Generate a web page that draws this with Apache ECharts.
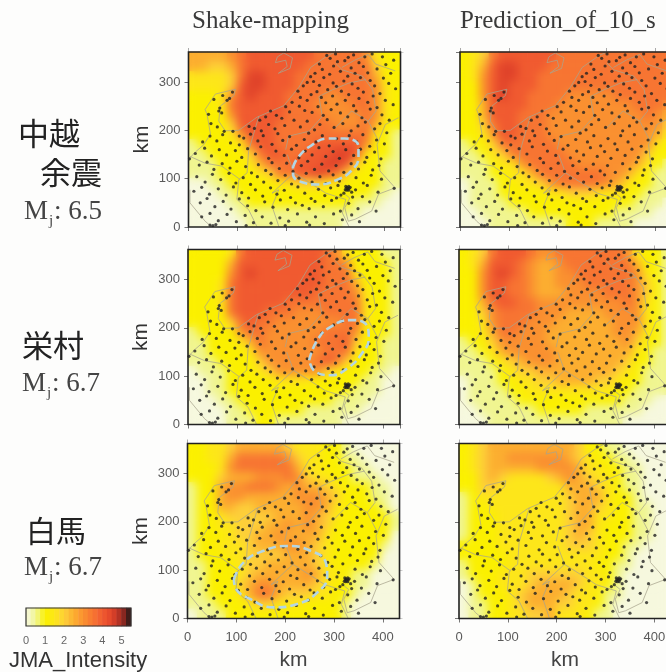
<!DOCTYPE html>
<html><head><meta charset="utf-8">
<style>html,body{margin:0;padding:0;background:#fdfdfc;overflow:hidden}#c{width:666px;height:672px}</style>
<script src="https://cdn.jsdelivr.net/npm/echarts@6/dist/echarts.min.js"></script>
</head><body><div id="c"></div>
<script>
// Cell centres, km. Heat values are half-steps of JMA intensity, read per 20 km cell, top row first.
const xCells=[10,30,50,70,90,110,130,150,170,190,210,230,250,270,290,310,330,350,370,390,410,430];
const yCells=[10,30,50,70,90,110,130,150,170,190,210,230,250,270,290,310,330,350];
const halfStep=0.5;
const legendValues=[0.1,0.35,0.6,0.85,1.1,1.35,1.6,1.85,2.1,2.35,2.6,2.85,3.1,3.35,3.6,3.85,4.1,4.35,4.6,4.85,5.1,5.4];

const shakeChuetsu=[
[5,5,5,5,6,7,8,8,8,8,8,8,8,7,7,7,7,7,6,3,2,2],
[5,5,4,4,5,7,8,8,8,8,8,8,7,7,7,7,7,7,7,4,2,2],
[3,3,3,3,4,7,9,9,8,8,8,7,7,7,7,7,7,7,7,5,2,2],
[3,3,3,3,4,8,9,9,8,8,8,7,7,7,7,7,7,7,7,6,3,2],
[2,2,2,3,6,8,9,8,8,8,7,7,7,7,6,6,7,7,7,6,3,2],
[2,2,2,3,7,8,8,8,8,8,7,7,7,6,6,6,6,7,7,6,3,2],
[2,2,2,2,6,8,8,8,8,8,7,7,7,7,6,6,6,6,7,6,3,2],
[2,2,2,2,4,8,8,8,8,7,7,7,7,7,7,6,6,6,7,5,2,2],
[2,2,2,2,3,6,8,8,8,7,7,7,7,7,7,7,7,7,7,3,2,1],
[1,2,2,2,2,3,7,8,8,7,7,7,7,8,8,8,8,8,6,2,2,1],
[1,1,2,2,2,2,4,7,8,8,7,7,8,8,8,9,9,8,3,2,2,1],
[1,1,1,2,2,2,3,5,7,7,7,8,8,8,9,9,8,4,2,2,1,1],
[1,1,1,2,2,2,2,3,4,7,7,8,8,9,8,7,4,2,2,2,1,1],
[0,0,1,1,2,2,2,2,2,3,3,4,4,4,3,3,2,2,2,2,1,1],
[0,0,0,1,1,2,2,2,2,2,2,2,2,2,2,2,2,2,2,1,1,0],
[0,0,0,0,1,1,2,2,2,2,2,2,2,2,2,2,2,1,1,1,0,0],
[0,0,0,0,0,1,1,1,1,1,1,1,1,1,1,1,1,1,0,0,0,0],
[0,0,0,0,0,0,1,1,1,1,1,1,1,1,1,1,0,0,0,0,0,0]];
const predChuetsu=[
[2,3,4,7,8,8,8,8,8,8,7,7,7,7,7,7,7,7,7,7,7,7],
[2,3,5,8,9,9,8,8,8,7,7,7,7,7,7,7,7,7,7,7,7,7],
[2,3,6,8,9,9,8,8,7,7,7,7,7,7,7,7,7,7,7,7,7,7],
[2,2,6,8,9,8,8,8,7,7,7,7,7,7,7,7,7,7,7,7,7,7],
[2,2,6,8,9,8,8,7,7,7,7,6,6,6,6,6,7,7,7,7,7,7],
[2,2,5,8,8,8,8,7,7,7,6,6,6,6,6,6,6,6,7,7,7,6],
[2,2,5,8,8,8,7,7,7,6,6,6,6,6,6,6,6,6,6,7,6,5],
[2,2,4,7,8,8,7,7,7,6,6,6,6,6,6,6,6,6,6,6,6,4],
[2,2,3,6,8,8,7,7,7,6,6,6,6,6,6,6,6,6,6,6,5,3],
[1,2,2,4,7,7,7,7,7,7,6,6,6,6,6,6,6,6,6,6,3,2],
[1,1,2,3,4,7,7,7,7,7,7,6,6,6,6,6,6,6,6,4,2,2],
[1,1,1,2,3,3,6,7,7,7,7,7,6,6,6,6,6,6,5,3,2,1],
[1,1,1,2,2,3,3,5,7,7,7,7,7,7,7,6,6,5,3,2,1,1],
[0,1,1,1,2,2,3,3,4,6,7,7,7,7,7,6,5,3,2,2,1,1],
[0,1,1,1,2,2,2,2,2,3,3,4,4,4,3,3,3,2,2,1,1,1],
[0,1,1,1,1,2,2,2,2,2,2,2,2,2,2,2,2,2,1,1,1,0],
[0,0,1,1,1,1,1,2,2,2,2,2,2,2,2,2,1,1,1,1,0,0],
[0,0,0,1,1,1,1,1,1,1,1,2,2,2,1,1,1,1,0,0,0,0]];
const shakeSakae=[
[2,2,2,2,3,7,8,8,8,8,8,8,8,8,7,6,3,2,2,2,1,1],
[2,2,2,2,5,8,8,8,8,8,8,8,8,8,7,7,6,2,2,2,2,1],
[2,2,2,2,6,8,9,8,8,8,8,8,8,8,7,7,7,3,2,2,2,1],
[2,2,2,3,7,8,8,8,8,8,8,8,8,8,7,7,7,5,2,2,2,1],
[2,2,2,3,7,8,8,8,8,8,8,8,8,7,7,7,7,6,3,2,2,1],
[2,2,2,3,7,8,8,8,8,8,7,7,7,7,7,7,7,7,3,2,2,1],
[2,2,2,2,7,8,8,8,7,7,7,6,6,6,7,7,7,7,3,2,2,1],
[2,2,2,2,4,7,8,7,7,6,6,6,6,6,6,6,7,7,3,2,2,1],
[1,2,2,2,2,6,7,7,6,6,6,6,6,6,7,7,7,6,2,2,2,1],
[1,1,2,2,2,3,5,7,6,6,6,6,6,7,7,7,8,4,2,2,1,1],
[1,1,2,2,2,2,3,6,6,6,6,6,6,6,7,7,7,3,2,2,1,1],
[1,1,1,2,2,2,2,4,6,6,6,6,6,7,8,7,4,2,2,2,1,1],
[0,1,1,1,2,2,2,3,4,6,6,6,6,6,4,3,2,2,2,1,1,0],
[0,0,1,1,2,2,2,2,2,3,3,3,3,2,2,2,2,2,1,1,0,0],
[0,0,1,1,2,2,2,2,2,2,2,2,2,2,2,2,2,1,1,1,0,0],
[0,0,0,1,1,2,2,2,2,2,2,2,2,2,2,1,1,1,1,0,0,0],
[0,0,0,0,1,1,2,2,2,2,2,2,1,1,1,1,1,1,0,0,0,0],
[0,0,0,0,1,1,1,2,2,1,1,1,1,1,1,1,0,0,0,0,0,0]];
const predSakae=[
[2,3,4,7,8,8,8,7,6,6,7,7,7,7,7,7,7,6,3,2,2,1],
[2,3,5,8,8,8,7,6,5,5,6,7,7,7,7,7,7,7,5,2,2,1],
[2,2,6,8,9,8,7,6,5,5,6,6,7,7,7,7,7,7,6,3,2,1],
[2,2,6,8,8,7,7,6,5,5,6,6,6,7,7,7,7,7,6,4,2,1],
[2,2,6,8,8,7,7,6,5,5,5,6,6,6,6,7,7,7,6,4,2,1],
[2,2,5,7,8,8,7,7,6,6,6,6,6,6,6,6,6,7,6,3,2,1],
[2,2,4,6,7,7,7,7,6,6,6,5,5,5,5,6,6,6,6,3,2,1],
[2,2,3,6,7,7,7,6,6,6,5,5,5,5,5,5,6,6,6,3,2,1],
[2,2,3,5,7,7,6,6,6,5,5,5,5,5,5,5,6,6,5,3,2,1],
[1,2,2,4,6,6,6,6,6,5,5,5,5,5,5,5,5,6,4,2,2,1],
[1,1,2,3,5,6,6,6,6,6,5,5,5,5,5,5,5,5,3,2,1,1],
[1,1,1,2,3,4,5,6,6,6,5,5,5,5,5,5,5,4,2,2,1,1],
[1,1,1,1,2,3,4,4,5,5,5,5,5,5,5,5,4,3,2,1,1,1],
[0,1,1,1,2,2,3,3,4,4,5,5,5,5,4,4,3,2,2,1,1,1],
[0,1,1,1,1,2,2,3,3,3,3,3,3,3,3,3,2,2,1,1,1,1],
[0,1,1,1,1,1,2,2,2,2,2,2,2,2,2,2,2,1,1,1,0,0],
[0,0,1,1,1,1,1,1,2,2,2,2,2,1,1,1,1,1,1,0,0,0],
[0,0,0,1,1,1,1,1,1,1,1,1,1,1,1,1,1,0,0,0,0,0]];
const shakeHakuba=[
[2,2,3,3,4,5,5,5,5,5,4,3,3,3,2,2,1,0,0,0,0,0],
[2,2,3,3,5,7,7,7,7,7,6,4,3,3,2,2,1,1,0,0,0,0],
[2,2,2,3,6,7,7,7,7,7,7,5,3,3,2,2,2,1,1,0,0,0],
[2,2,2,4,5,5,5,6,6,6,7,6,4,3,3,2,2,1,1,1,0,0],
[1,2,2,5,6,6,7,7,7,6,5,6,5,5,4,3,2,2,2,1,1,0],
[1,2,2,5,6,6,5,5,5,5,5,6,6,6,5,4,2,2,2,1,1,0],
[1,2,2,5,5,4,4,5,5,5,5,5,6,6,5,3,2,2,2,2,1,0],
[1,2,2,3,4,4,4,4,4,5,5,5,6,5,4,3,2,2,2,2,2,1],
[1,2,2,3,3,4,4,4,5,5,6,5,6,5,4,2,2,2,2,2,2,1],
[1,2,2,2,3,4,4,5,5,6,5,5,5,5,3,2,2,2,2,2,2,0],
[1,2,2,3,3,3,4,5,5,5,6,6,5,4,3,2,2,2,2,2,1,0],
[1,2,2,2,3,3,4,4,4,4,5,5,5,4,3,2,2,2,2,2,0,0],
[1,1,2,2,2,3,4,4,5,5,5,5,5,4,3,2,2,2,2,1,0,0],
[1,1,2,2,2,3,4,5,5,5,5,5,6,5,3,3,2,1,1,0,0,0],
[1,1,2,2,2,4,5,6,6,5,5,5,5,4,3,2,2,1,1,0,0,0],
[1,1,2,2,2,3,5,7,7,5,4,4,4,3,3,2,2,1,0,0,0,0],
[1,1,1,2,2,2,3,4,4,3,3,3,2,2,2,2,1,0,0,0,0,0],
[0,1,1,1,2,2,2,2,2,2,2,2,2,2,2,2,1,0,0,0,0,0]];
const predHakuba=[
[2,3,4,5,5,5,5,5,5,5,5,5,4,2,2,1,1,0,0,0,0,0],
[2,3,4,5,5,6,6,6,6,6,6,5,4,3,2,2,1,1,0,0,0,0],
[2,3,4,5,5,5,5,5,6,6,6,6,5,3,3,2,2,1,1,0,0,0],
[2,2,4,5,4,3,3,3,3,4,5,6,5,4,3,3,2,1,1,0,0,0],
[2,2,4,4,3,3,3,3,3,3,3,5,5,5,4,3,2,1,1,0,0,0],
[1,2,3,3,3,3,3,3,3,3,3,4,5,5,5,3,2,2,1,0,0,0],
[1,2,2,3,3,3,3,3,3,3,3,4,5,5,4,3,2,2,1,1,0,0],
[1,2,2,2,3,3,3,3,3,3,3,4,5,5,3,3,2,2,1,1,0,0],
[1,2,2,2,3,3,3,3,3,3,3,4,5,5,3,2,2,2,1,1,0,0],
[1,2,2,2,3,3,3,3,3,3,3,4,5,4,3,2,2,2,1,1,0,0],
[2,2,2,2,3,3,3,3,3,3,3,4,4,4,3,2,2,1,1,0,0,0],
[2,2,2,2,2,3,3,3,3,3,3,3,3,3,3,2,2,1,0,0,0,0],
[1,2,2,2,2,3,3,3,3,3,3,3,3,3,2,2,1,1,0,0,0,0],
[1,2,2,2,3,3,3,4,4,4,4,4,4,3,3,2,1,0,0,0,0,0],
[0,1,2,2,3,3,3,4,5,5,5,5,4,3,3,2,1,0,0,0,0,0],
[0,1,2,2,2,3,4,5,5,5,5,4,3,3,2,1,1,0,0,0,0,0],
[0,1,1,2,2,3,4,5,5,5,4,4,3,3,2,1,0,0,0,0,0,0],
[0,1,1,2,2,3,3,4,4,5,3,3,3,2,1,1,0,0,0,0,0,0]];

// Seismic stations (km east, km north)
const stations=[
[283,355],[290,349],[301,358],[320,344],[327,351],[338,356],[349,340],[361,352],[376,358],[397,352],[420,345],[268,337],[274,326],[297,333],[305,342],[311,322],[333,329],[341,318],[358,332],[367,319],[386,327],[404,336],[414,318],[289,316],[259,318],[250,311],[326,312],[352,309],[243,299],[256,301],[268,293],[277,309],[296,298],[303,291],[318,302],[335,296],[347,287],[372,303],[381,292],[399,308],[410,297],[424,286],[235,292],[263,280],[285,284],[313,281],[328,274],[358,279],[392,276],
[224,281],[229,268],[243,262],[251,274],[272,268],[281,257],[295,271],[304,254],[321,262],[338,251],[349,266],[367,258],[378,271],[386,247],[403,262],[419,253],[212,258],[227,250],[238,241],[199,249],[207,238],[253,237],[265,249],[276,231],[292,243],[311,236],[326,228],[343,240],[355,226],[372,244],[396,232],[411,221],[168,240],[180,231],[158,228],[191,225],[146,221],[124,208],[135,204],[149,199],[164,212],[177,203],[197,210],[216,221],[229,207],[243,219],[258,201],[269,212],[284,222],[298,206],[316,214],[333,199],[347,209],[362,217],[381,203],[392,214],[406,195],
[62,240],[52,264],[70,272],[84,266],[90,279],[41,233],[46,214],[59,207],[73,198],[91,198],[64,246],[79,262],[68,236],[104,188],
[29,176],[44,188],[58,178],[70,191],[86,174],[104,170],[113,184],[127,192],[142,178],[153,189],[171,171],[183,193],[193,179],[207,187],[221,169],[237,181],[246,194],[261,176],[274,189],[288,168],[303,183],[317,172],[329,189],[344,176],[357,191],[371,167],[385,180],[401,172],
[14,152],[33,163],[47,147],[63,160],[78,149],[96,158],[109,144],[121,162],[137,151],[148,166],[164,142],[179,157],[196,148],[211,161],[226,143],[239,157],[253,149],[267,164],[281,146],[296,156],[309,142],[322,160],[338,148],[352,161],[365,144],[381,155],[394,141],
[2,141],[22,128],[38,134],[52,119],[69,131],[85,122],[99,136],[117,125],[129,112],[143,129],[158,117],[171,133],[186,121],[201,132],[214,115],[231,127],[244,136],[258,119],[273,130],[287,116],[302,127],[318,113],[333,131],[348,120],[361,134],[377,118],[390,127],
[17,104],[34,93],[49,109],[66,98],[83,111],[97,91],[112,102],[127,88],[141,104],[154,93],[169,109],[183,96],[198,107],[211,89],[226,101],[241,111],[253,93],[269,104],[281,90],[296,108],[309,95],[343,102],[358,91],[374,107],[395,99],
[11,74],[27,82],[43,68],[61,79],[77,66],[92,83],[109,71],[123,60],[137,77],[152,64],[168,81],[181,68],[196,76],[209,61],[224,83],[238,70],[251,59],[266,78],[279,65],[291,81],[303,60],[342,77],[356,63],[366,86],[388,72],[421,80],
[24,50],[38,59],[54,42],[71,53],[87,37],[104,58],[121,44],[138,34],[156,52],[173,41],[188,56],[203,36],[219,50],[233,45],[247,38],[259,53],[276,42],[293,55],[311,33],[328,49],[347,38],[371,52],[384,33],
[27,21],[44,28],[61,13],[79,26],[98,11],[116,24],[133,9],[151,21],[169,8],[187,19],[205,12],[223,27],[242,10],[260,21],[278,7],[297,27],[315,15],[334,25],[350,11],[44,4],[50,3],[56,5],[118,3],[198,3],[248,4],
[322,84],[325,82],[328,84],[323,80],[326,79],[329,80],[324,76],[328,76],[321,77],[331,82],[312,66],[336,62],[306,86],[318,70],[334,72]
];

const coastlines=[
[[0,140],[14,155],[31,170],[45,192],[38,233],[34,243],[55,275],[96,285],[93,272],[65,250],[62,219],[75,199],[103,200],[140,227],[195,251],[226,289],[250,330],[284,354],[300,362]],
[[182,352],[178,340],[199,345],[202,332],[184,318],[208,328],[213,350],[195,360],[182,352]],
[[144,229],[123,157],[120,112],[103,98],[99,57],[123,36],[140,1]],
[[3,146],[34,132],[68,126],[106,98]],
[[3,77],[3,50],[34,12],[48,0]],
[[171,70],[185,77],[171,43],[185,1]],
[[199,160],[205,188],[247,198],[274,229],[267,270],[295,284],[329,298],[363,305]],
[[301,339],[315,325],[356,312],[377,284],[384,240],[368,219]],
[[202,150],[216,112],[171,70]],
[[216,112],[260,84],[281,70],[322,57],[315,29],[329,0]],
[[300,205],[334,240],[368,219],[389,178]],
[[430,226],[403,212],[386,171],[392,116],[423,81],[389,68],[375,33],[341,16],[327,12],[320,40],[330,60],[320,68]],
[[314,330],[340,345],[368,357],[383,337],[423,323]]
];

const ellipseChuetsu=[[214,124],[225,145],[252,169],[286,183],[320,183],[348,166],[348,145],[334,117],[303,97],[265,88],[231,93],[214,110],[214,124]];
const ellipseSakae=[[248,133],[265,175],[292,202],[333,216],[363,209],[370,178],[356,147],[326,116],[292,102],[261,109],[248,133]];
const ellipseHakuba=[[95,81],[115,116],[156,140],[204,150],[252,140],[283,116],[286,88],[266,54],[225,30],[177,23],[129,40],[98,64],[95,81]];

const panels=[
 {left:188.5,top:52,heat:shakeChuetsu,ellipse:ellipseChuetsu,row:0,col:0},
 {left:460,top:52,heat:predChuetsu,row:0,col:1},
 {left:188,top:249.5,heat:shakeSakae,ellipse:ellipseSakae,row:1,col:0},
 {left:459,top:249.5,heat:predSakae,row:1,col:1},
 {left:187.5,top:443.5,heat:shakeHakuba,ellipse:ellipseHakuba,row:2,col:0},
 {left:459,top:443.5,heat:predHakuba,row:2,col:1}
];
const W=212,H=175;
const grids=[],xAxes=[],yAxes=[],series=[],heatIdx=[];
const axCol='#777',lblCol='#5a5a5a',TOP=2;
panels.forEach((p,i)=>{
  grids.push({left:p.left,top:p.top,width:W,height:H,show:true,borderColor:'#222',borderWidth:1.6,backgroundColor:'transparent',zlevel:TOP,z:10,outerBoundsMode:'none'});
  const g=grids.length-1;
  const ix=xAxes.length, iy=yAxes.length;
  xAxes.push({type:'category',gridIndex:g,data:xCells,show:false});
  yAxes.push({type:'category',gridIndex:g,data:yCells,show:false});
  xAxes.push({type:'value',gridIndex:g,position:'bottom',min:0,max:434,interval:100,zlevel:TOP,splitLine:{show:false},
    axisLine:{show:false},axisTick:{show:true,length:4,lineStyle:{color:axCol}},
    axisLabel:{show:p.row===2,showMaxLabel:false,color:lblCol,fontSize:13,fontFamily:'Liberation Sans',margin:12},
    name:p.row===2?'km':'',nameLocation:'middle',nameGap:31,nameTextStyle:{fontSize:21,color:'#444',fontFamily:'Liberation Sans'}});
  xAxes.push({type:'value',gridIndex:g,position:'top',min:0,max:434,interval:100,zlevel:TOP,splitLine:{show:false},axisLine:{show:false},
    axisTick:{show:true,length:4,lineStyle:{color:'#aaa'}},axisLabel:{show:false}});
  yAxes.push({type:'value',gridIndex:g,position:'left',min:0,max:362,interval:100,zlevel:TOP,splitLine:{show:false},
    axisLine:{show:false},axisTick:{show:true,length:4,lineStyle:{color:axCol}},
    axisLabel:{show:p.col===0,showMaxLabel:false,color:lblCol,fontSize:13,fontFamily:'Liberation Sans',margin:8},
    name:p.col===0?'km':'',nameLocation:'middle',nameGap:36,nameRotate:90,nameTextStyle:{fontSize:21,color:'#333',fontFamily:'Liberation Sans'}});
  yAxes.push({type:'value',gridIndex:g,position:'right',min:0,max:362,interval:100,zlevel:TOP,splitLine:{show:false},axisLine:{show:false},
    axisTick:{show:true,length:3,lineStyle:{color:'#ccc'}},axisLabel:{show:false}});
  const cells=[];
  p.heat.forEach((row,r)=>row.forEach((v,c)=>cells.push([c,yCells.length-1-r,v*halfStep])));
  [0,1].forEach(z=>{
    heatIdx.push(series.length);
    series.push({type:'heatmap',xAxisIndex:ix,yAxisIndex:iy,data:cells,zlevel:z,silent:true,progressive:0,animation:false});
  });
  series.push({type:'lines',coordinateSystem:'cartesian2d',polyline:true,xAxisIndex:ix+1,yAxisIndex:iy+1,silent:true,zlevel:TOP,z:3,
    lineStyle:{color:'#a8a48e',width:1,opacity:0.75},data:coastlines.map(c=>({coords:c}))});
  series.push({type:'scatter',xAxisIndex:ix+1,yAxisIndex:iy+1,data:stations,symbolSize:3.2,silent:true,zlevel:TOP,z:4,
    itemStyle:{color:'#222'}});
  if(p.ellipse) series.push({type:'line',xAxisIndex:ix+1,yAxisIndex:iy+1,data:p.ellipse,smooth:true,showSymbol:false,symbol:'none',silent:true,zlevel:TOP,z:5,
    lineStyle:{color:'#b3d6e4',width:2.6,type:[8,4]}});
});
// legend bar
grids.push({left:26,top:608,width:105,height:18,show:true,borderColor:'#333',borderWidth:1.2,backgroundColor:'transparent',zlevel:TOP,z:10,outerBoundsMode:'none'});
const lg=grids.length-1, lx=xAxes.length, ly=yAxes.length;
xAxes.push({type:'category',gridIndex:lg,data:legendValues,show:false});
yAxes.push({type:'category',gridIndex:lg,data:['JMA'],show:false});
xAxes.push({type:'value',gridIndex:lg,position:'bottom',min:0,max:5.5,interval:1,zlevel:TOP,splitLine:{show:false},axisLine:{show:false},
  axisTick:{show:true,inside:true,length:18,lineStyle:{color:'rgba(110,110,70,0.35)'}},
  axisLabel:{show:true,showMaxLabel:false,color:'#666',fontSize:11,fontFamily:'Liberation Sans',margin:9}});
heatIdx.push(series.length);
series.push({type:'heatmap',xAxisIndex:lx,yAxisIndex:ly,data:legendValues.map((v,i)=>[i,0,v]),zlevel:TOP,z:2,silent:true});

const serif='Liberation Serif',cjk='Noto Sans CJK JP';
const txt=(x,y,text,font,fill,align)=>({type:'text',zlevel:TOP,z:20,silent:true,style:{x,y,text,font,fill:fill||'#333',textAlign:align||'left',textVerticalAlign:'middle'}});
const mj=(x,y,val)=>[txt(x,y,'M','27px "'+serif+'"','#444'),txt(x+25,y+9,'j','15px "'+serif+'"','#444'),txt(x+30,y,': '+val,'27px "'+serif+'"','#444')];
const graphics=[
 txt(192,21,'Shake-mapping','25px "'+serif+'"','#3a3a3a'),
 txt(460,21,'Prediction_of_10_s','25px "'+serif+'"','#3a3a3a'),
 txt(18,133,'中越','31px "'+cjk+'"','#222'),
 txt(40,172,'余震','31px "'+cjk+'"','#222'),
 ...mj(24,212,'6.5'),
 txt(22,345,'栄村','31px "'+cjk+'"','#222'),
 ...mj(22,384,'6.7'),
 txt(26,531,'白馬','30px "'+cjk+'"','#222'),
 ...mj(24,568,'6.7'),
 txt(9,661,'JMA_Intensity','22px "Liberation Sans"','#333')
];
const chart=echarts.init(document.getElementById('c'),null,{width:666,height:672,renderer:'canvas'});
chart.setOption({
  animation:false,backgroundColor:'transparent',
  grid:grids,xAxis:xAxes,yAxis:yAxes,series,
  visualMap:{show:false,type:'continuous',seriesIndex:heatIdx,dimension:2,min:0,max:5.5,
    inRange:{color:['#f6f8de','#f0f590','#fbf000','#fde61a','#fdcf3a','#fcae30','#fa9030','#f77532','#f05a30','#e0432a','#a02a22','#2b1a18']}},
  graphic:{elements:graphics}
});
// Blur only the soft copy of the intensity field, to the plot rectangles.
const cv=chart.getDom().querySelectorAll('canvas');
if(cv.length>1){
  const path=panels.map(p=>`M${p.left} ${p.top}h${W}v${H}h-${W}Z`).join(' ');
  cv[1].style.filter='blur(5px)';
  cv[1].style.clipPath=`path('${path}')`;
}
</script></body></html>
